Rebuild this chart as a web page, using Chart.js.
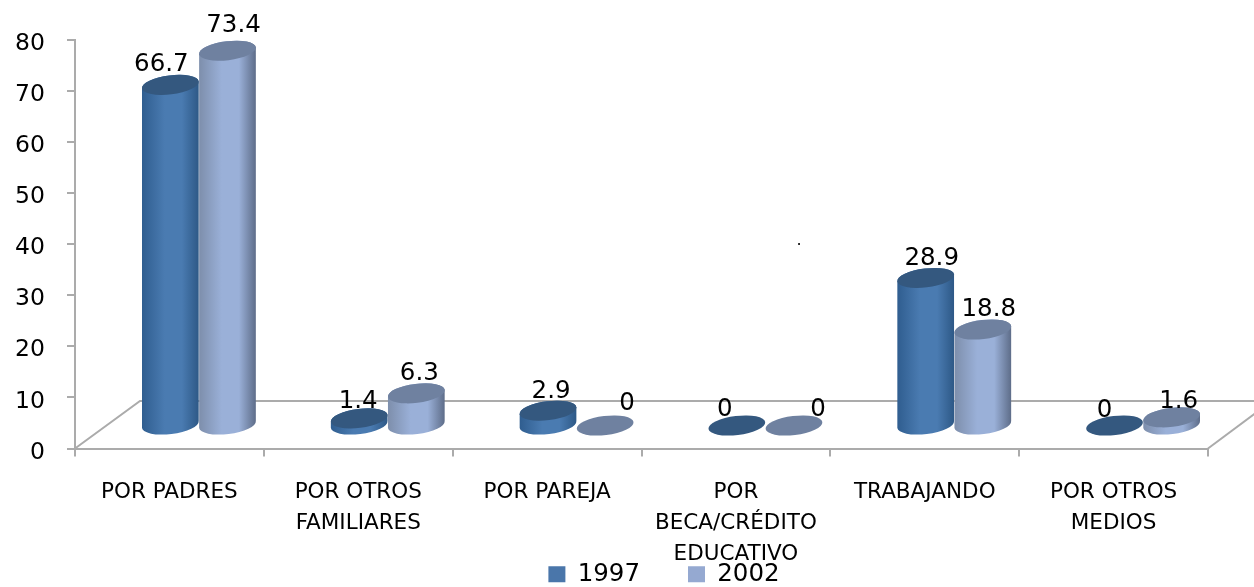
<!DOCTYPE html>
<html><head><meta charset="utf-8">
<style>html,body{margin:0;padding:0;background:#fff}canvas{display:block}</style>
<script src="https://cdn.jsdelivr.net/npm/chart.js@4"></script>
</head><body><canvas id="c" width="1254" height="587"></canvas>
<script>
const categories = [["POR PADRES"],["POR OTROS","FAMILIARES"],["POR PAREJA"],["POR","BECA/CRÉDITO","EDUCATIVO"],["TRABAJANDO"],["POR OTROS","MEDIOS"]];
const series1997 = [66.7,1.4,2.9,0,28.9,0];
const series2002 = [73.4,6.3,0,0,18.8,1.6];
const yTicks = [0,10,20,30,40,50,60,70,80];

const AXIS='#ababab', DX=29.5, DY=-23, RY=9.5, TILT=-7*Math.PI/180;
const styles=[
 {edgeL:'#2f5d8f',mid:'#4a7bb1',edgeR:'#2d5886',top:'#34587f'},
 {edgeL:'#7d8eab',mid:'#9ab0d8',edgeR:'#5d6c88',top:'#6f81a0'}
];
// pixel nudges of the value labels relative to the top of each cylinder
const nudges=[
 [[-9,-20],[-1,-17],[3,-19],[-12,-16],[6,-19],[-10,-15]],
 [[6,-25],[3,-20],[22,-22],[24,-16],[6,-20],[7,-16]]
];
const cyl3d={
 id:'cyl3d',
 beforeDatasetDraw(){return false;},
 beforeDatasetsDraw(chart){
  const {ctx,chartArea:a}=chart, b=a.bottom, backY=401;
  ctx.save();ctx.strokeStyle=AXIS;ctx.lineWidth=2;
  ctx.beginPath();ctx.moveTo(a.left,b);ctx.lineTo(a.left+65,backY);ctx.lineTo(1254,backY);ctx.stroke();
  ctx.beginPath();ctx.moveTo(a.right,b);ctx.lineTo(a.right+47,b-35);ctx.stroke();
  ctx.restore();
 },
 afterDatasetsDraw(chart){
  const {ctx}=chart, n=chart.data.labels.length;
  for(let j=0;j<n;j++){
   chart.data.datasets.forEach((ds,i)=>{
    const el=chart.getDatasetMeta(i).data[j], s=styles[i];
    const rx=el.width/2, cx=el.x+DX, top=el.y+DY, base=el.base+DY;
    ctx.save();
    if(ds.data[j]>0){
     const g=ctx.createLinearGradient(cx-rx,0,cx+rx,0);
     g.addColorStop(0,s.edgeL);g.addColorStop(.4,s.mid);g.addColorStop(.7,s.mid);g.addColorStop(1,s.edgeR);
     ctx.fillStyle=g;
     ctx.beginPath();
     ctx.ellipse(cx,base,rx,RY,TILT,Math.PI,0,true);
     ctx.lineTo(cx+rx*Math.cos(TILT),top+rx*Math.sin(TILT));
     ctx.ellipse(cx,top,rx,RY,TILT,0,Math.PI,true);
     ctx.closePath();ctx.fill();
    }
    ctx.fillStyle=s.top;
    ctx.beginPath();ctx.ellipse(cx,top,rx,RY,TILT,0,Math.PI*2);ctx.fill();
    ctx.restore();
   });
  }
  ctx.save();
  ctx.fillStyle='#000';ctx.font='24.5px "DejaVu Sans"';ctx.textAlign='center';ctx.textBaseline='middle';
  chart.data.datasets.forEach((ds,i)=>{
   chart.getDatasetMeta(i).data.forEach((el,j)=>{
    const [nx,ny]=nudges[i][j];
    ctx.fillText(String(ds.data[j]),el.x+DX+nx,el.y+DY+ny);
   });
  });
  ctx.font='16px "DejaVu Sans"';ctx.fillText('.',799,241);
  ctx.restore();
 },
 afterLayout(chart){
  const l=chart.legend, x=chart.scales.x;
  l.top=514;l.bottom=514+l.height;l.left+=60;l.right+=60;
  x.bottom=587;x.height=587-x.top;
 }
};
new Chart(document.getElementById('c'),{
 type:'bar',
 data:{labels:categories,datasets:[
  {label:'1997',data:series1997,backgroundColor:'#4a76aa',categoryPercentage:.605,barPercentage:1},
  {label:'2002',data:series2002,backgroundColor:'#95a9d1',categoryPercentage:.605,barPercentage:1}
 ]},
 plugins:[cyl3d],
 options:{
  responsive:false,animation:false,
  layout:{padding:{top:40,right:46,left:0,bottom:0}},
  plugins:{
   tooltip:{enabled:false},
   legend:{position:'bottom',labels:{boxWidth:17,boxHeight:16,padding:48,color:'#000',font:{family:'"DejaVu Sans"',size:24.5}}}
  },
  scales:{
   x:{
    afterFit(s){s.height=56;},
    grid:{drawOnChartArea:false,drawTicks:true,tickLength:8,color:AXIS,lineWidth:2},
    border:{color:AXIS,width:2},
    ticks:{maxRotation:0,autoSkip:false,padding:20,color:'#000',font:{family:'"DejaVu Sans"',size:21.5,lineHeight:1.45}}
   },
   y:{
    min:0,max:80,
    afterFit(s){s.width=75;},
    afterBuildTicks(s){s.ticks=yTicks.map(v=>({value:v}));},
    grid:{drawOnChartArea:false,drawTicks:true,tickLength:8,color:AXIS,lineWidth:2},
    border:{color:AXIS,width:2},
    ticks:{padding:22,labelOffset:4,color:'#000',font:{family:'"DejaVu Sans"',size:23.5}}
   }
  }
 }
});
</script></body></html>
